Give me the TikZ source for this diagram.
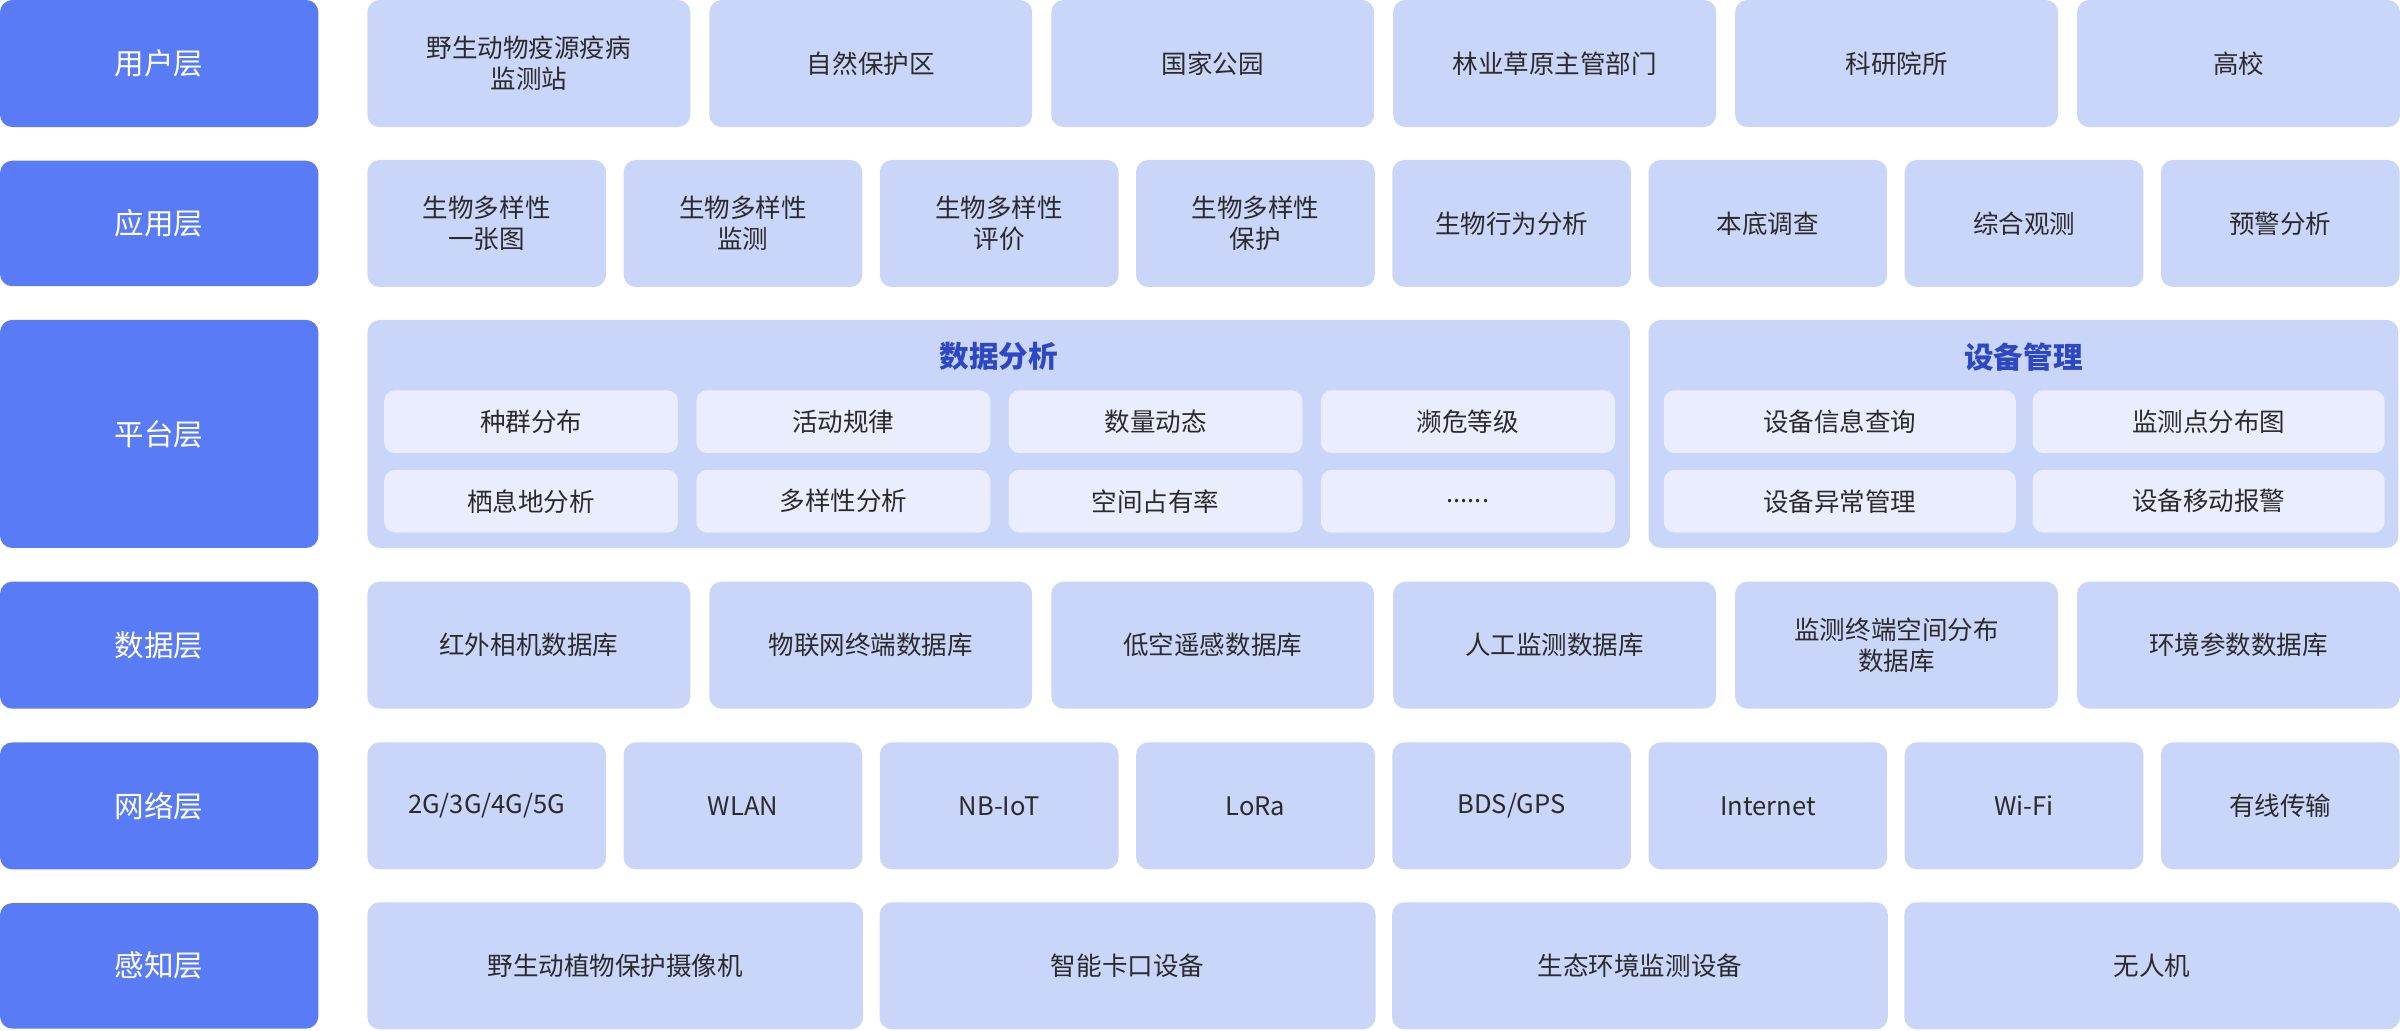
\documentclass[tikz,border=0pt]{standalone}
\usepackage{fontspec}
\setmainfont{Noto Sans CJK SC}
\usetikzlibrary{positioning}
\definecolor{layerblue}{HTML}{5A7BF6}
\definecolor{cellblue}{HTML}{CAD6F9}
\definecolor{innerblue}{HTML}{E9EDFD}
\definecolor{titleblue}{HTML}{2E47C2}
\definecolor{txt}{HTML}{2B2B2B}
\tikzset{
  layer/.style={rounded corners=0.16cm,fill=layerblue,text=white,minimum width=4.16cm,
    inner sep=0pt,font=\fontsize{11}{13}\selectfont},
  cell/.style={rounded corners=0.16cm,fill=cellblue,text=txt,inner sep=0pt,align=center,
    minimum height=1.66cm,font=\fontsize{9.5}{11.5}\selectfont},
  inner/.style={rounded corners=0.14cm,fill=innerblue,text=txt,inner sep=0pt,
    minimum height=0.82cm,font=\fontsize{9.5}{11.5}\selectfont},
  paneltitle/.style={text=titleblue,font=\fontsize{11}{13}\selectfont\bfseries}
}
\begin{document}
\begin{tikzpicture}[x=0.02cm,y=-0.02cm]
  \useasboundingbox (0,0) rectangle (1568,673);
  % layer labels
  \foreach \ya/\yb/\t [count=\i] in {0/83/用户层,105/187/应用层,209/358/平台层,380/463/数据层,485/568/网络层,590/672/感知层}
    \node[layer,minimum height={(\yb-\ya)*0.02cm}] (L\i) at (104,{(\ya+\yb)/2}) {\t};
  % user layer
  \foreach \t [count=\i from 0] in {{野生动物疫源疫病\\监测站},自然保护区,国家公园,林业草原主管部门,科研院所,高校}
    \node[cell,minimum width=4.22cm] (user\i) at ({345.5+\i*223.4},41.5) {\t};
  % application layer
  \foreach \t [count=\i from 0] in {{生物多样性\\一张图},{生物多样性\\监测},{生物多样性\\评价},{生物多样性\\保护},生物行为分析,本底调查,综合观测,预警分析}
    \node[cell,minimum width=3.12cm] (app\i) at ({318+\i*167.4},146) {\t};
  % platform layer
  \node[rounded corners=0.16cm,fill=cellblue,minimum width=16.5cm,minimum height=2.98cm] (data) at (652.5,283.5) {};
  \node[rounded corners=0.16cm,fill=cellblue,minimum width=9.8cm,minimum height=2.98cm] (dev) at (1322,283.5) {};
  \node[paneltitle] (dataT) at (652.5,233) {数据分析};
  \node[paneltitle] (devT) at (1322,233) {设备管理};
  \foreach \t [count=\i from 0] in {种群分布,活动规律,数量动态,濒危等级}
    \node[inner,minimum width=3.84cm] (da\i) at ({347+\i*204},275.5) {\t};
  \foreach \t [count=\i from 0] in {栖息地分析,多样性分析,空间占有率}
    \node[inner,minimum width=3.84cm] (db\i) at ({347+\i*204},327.5) {\t};
  \node[inner,minimum width=3.84cm] (db3) at (959,327.5) {......};
  \foreach \t [count=\i from 0] in {设备信息查询,监测点分布图}
    \node[inner,minimum width=4.6cm] (va\i) at ({1202+\i*241},275.5) {\t};
  \foreach \t [count=\i from 0] in {设备异常管理,设备移动报警}
    \node[inner,minimum width=4.6cm] (vb\i) at ({1202+\i*241},327.5) {\t};
  % data layer
  \foreach \t [count=\i from 0] in {红外相机数据库,物联网终端数据库,低空遥感数据库,人工监测数据库,{监测终端空间分布\\数据库},环境参数数据库}
    \node[cell,minimum width=4.22cm] (base\i) at ({345.5+\i*223.4},421.5) {\t};
  % network layer
  \foreach \t [count=\i from 0] in {2G/3G/4G/5G,WLAN,NB-IoT,LoRa,BDS/GPS,Internet,Wi-Fi,有线传输}
    \node[cell,minimum width=3.12cm] (net\i) at ({318+\i*167.4},526.5) {\t};
  % perception layer
  \foreach \t [count=\i from 0] in {野生动植物保护摄像机,智能卡口设备,生态环境监测设备,无人机}
    \node[cell,minimum width=6.48cm] (sen\i) at ({402+\i*334.7},631) {\t};
\end{tikzpicture}
\end{document}
